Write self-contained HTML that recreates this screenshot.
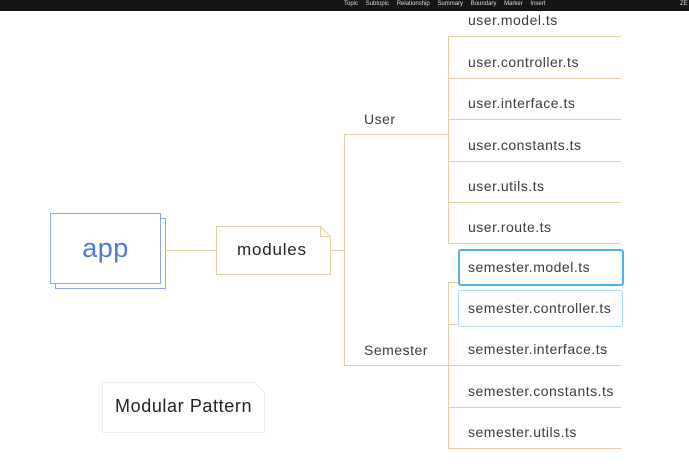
<!DOCTYPE html>
<html><head><style>
body{margin:0;width:689px;height:472px;background:#fff;position:relative;overflow:hidden;font-family:"Liberation Sans","DejaVu Sans",sans-serif}
.a{position:absolute}
.t{position:absolute;font-size:14px;color:#3f3a35;white-space:nowrap;letter-spacing:0.5px}
.h{position:absolute;height:1px;background:#e3cfa6}
.v{position:absolute;width:1px;background:#e3cfa6}
</style></head><body>
<div class="a" style="left:0;top:0;width:689px;height:11px;background:#161616"></div>
<div class="a" style="left:344px;top:1px;font-size:6px;color:#ddd;word-spacing:6px">Topic Subtopic Relationship Summary Boundary Marker Insert</div>
<div class="a" style="left:680px;top:1px;font-size:6px;color:#ddd">ZE</div>

<!-- app -->
<div class="a" style="left:55px;top:218px;width:109px;height:69px;border:1px solid #8fa8e0;background:#fff"></div>
<div class="a" style="left:50px;top:213px;width:109px;height:69px;border:1px solid #8fa8e0;background:#fff;color:#4f7bd0;font-size:27px;text-align:center;line-height:68px;letter-spacing:0.5px">app</div>
<div class="h" style="left:165px;top:250px;width:52px"></div>
<!-- modules -->
<svg class="a" style="left:216px;top:226px" width="116" height="49"><path d="M0.5 0.5H104.5L114.5 10.5V48.5H0.5Z" fill="#fff" stroke="#e3cfa6"/><path d="M104.5 0.5V10.5H114.5" fill="none" stroke="#e3cfa6"/></svg>
<div class="t" style="left:237px;top:240px;font-size:17px;color:#222;letter-spacing:0.8px">modules</div>
<div class="h" style="left:331px;top:250px;width:13px"></div>
<div class="v" style="left:344px;top:134px;height:232px"></div>
<div class="h" style="left:344px;top:134px;width:104px"></div>
<div class="h" style="left:344px;top:365px;width:104px"></div>
<div class="t" style="left:364px;top:111px">User</div>
<div class="t" style="left:364px;top:342px">Semester</div>

<div class="v" style="left:448px;top:36px;height:208px"></div>
<div class="v" style="left:448px;top:282px;height:167px"></div>
<div class="h" style="left:448px;top:36px;width:173px"></div>
<div class="h" style="left:448px;top:78px;width:173px"></div>
<div class="h" style="left:448px;top:119px;width:173px"></div>
<div class="h" style="left:448px;top:161px;width:173px"></div>
<div class="h" style="left:448px;top:202px;width:173px"></div>
<div class="h" style="left:448px;top:243px;width:173px"></div>
<div class="h" style="left:448px;top:282px;width:10px"></div>
<div class="h" style="left:448px;top:324px;width:10px"></div>
<div class="h" style="left:448px;top:365px;width:173px"></div>
<div class="h" style="left:448px;top:407px;width:173px"></div>
<div class="h" style="left:448px;top:448px;width:173px"></div>

<div class="t" style="left:468px;top:12px">user.model.ts</div>
<div class="t" style="left:468px;top:54px">user.controller.ts</div>
<div class="t" style="left:468px;top:95px">user.interface.ts</div>
<div class="t" style="left:468px;top:137px">user.constants.ts</div>
<div class="t" style="left:468px;top:178px">user.utils.ts</div>
<div class="t" style="left:468px;top:219px">user.route.ts</div>

<div class="a" style="left:458px;top:249px;width:162px;height:33px;border:2px solid #4fb3e8;border-radius:3px"></div>
<div class="a" style="left:458px;top:290px;width:163px;height:35px;border:1px solid #a8dcf5;border-radius:3px"></div>
<div class="t" style="left:468px;top:259px">semester.model.ts</div>
<div class="t" style="left:468px;top:300px">semester.controller.ts</div>
<div class="t" style="left:468px;top:341px">semester.interface.ts</div>
<div class="t" style="left:468px;top:383px">semester.constants.ts</div>
<div class="t" style="left:468px;top:424px">semester.utils.ts</div>

<svg class="a" style="left:102px;top:382px" width="163" height="51"><path d="M0.5 0.5H152.5L162.5 10.5V50.5H0.5Z" fill="#fff" stroke="#ececec"/></svg>
<div class="t" style="left:115px;top:396px;font-size:18px;color:#222;letter-spacing:0.6px">Modular Pattern</div>
</body></html>
